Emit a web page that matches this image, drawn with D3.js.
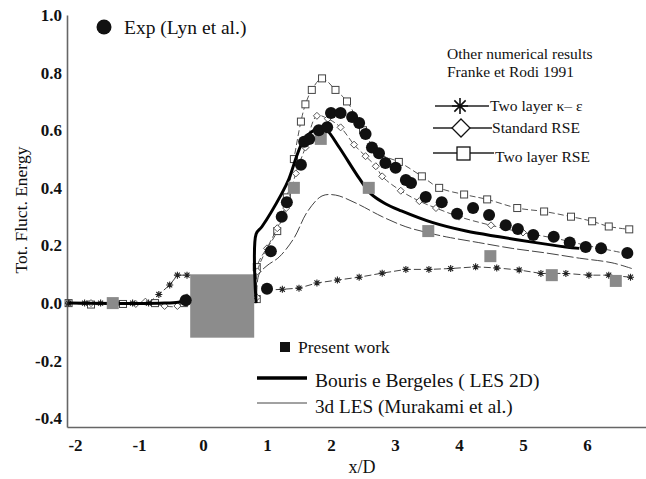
<!DOCTYPE html>
<html>
<head>
<meta charset="utf-8">
<script src="https://cdn.jsdelivr.net/npm/d3@7/dist/d3.min.js"></script>
<style>
  html, body { margin: 0; padding: 0; background: #fff; }
  svg { display: block; }
  svg text { font-family: "Liberation Serif", "Tinos", "Times New Roman", "DejaVu Serif", serif !important; fill: #111; }
</style>
</head>
<body>
<svg id="chart" width="646" height="479"></svg>
<script>
// ---------------- DATA ----------------
const xTicks = [-2, -1, 0, 1, 2, 3, 4, 5, 6, 7];
const yTicks = [-0.4, -0.2, 0.0, 0.2, 0.4, 0.6, 0.8, 1.0];

// obstacle (square cylinder) drawn as grey block
const obstacleX = [-0.2, 0.8];
const obstacleY = [-0.12, 0.1];

// Experiment (Lyn et al.)
const expX = [-0.27, 1.0, 1.06, 1.23, 1.31, 1.53, 1.58, 1.66, 1.81, 1.94, 2.0, 2.15, 2.33, 2.44, 2.54, 2.64, 2.75, 2.85, 3.01, 3.17, 3.25, 3.48, 3.73, 3.97, 4.22, 4.47, 4.73, 4.92, 5.16, 5.48, 5.73, 5.98, 6.22, 6.63];
const expY = [0.01, 0.05, 0.18, 0.30, 0.35, 0.48, 0.56, 0.57, 0.60, 0.61, 0.66, 0.66, 0.646, 0.625, 0.587, 0.54, 0.52, 0.486, 0.47, 0.427, 0.417, 0.368, 0.35, 0.31, 0.33, 0.306, 0.27, 0.257, 0.236, 0.23, 0.21, 0.195, 0.19, 0.174];

// Present work
const presentX = [-1.41, 1.42, 1.84, 2.59, 3.52, 4.49, 5.45, 6.45];
const presentY = [0.0, 0.40, 0.57, 0.40, 0.25, 0.163, 0.097, 0.077];

// Bouris e Bergeles (LES 2D)  (null = break)
const bourisX = [-2.1, -0.6, -0.35, -0.22, null, 0.83, 0.83, 0.92, 1.23, 1.34, 1.48, 1.58, 1.70, 1.86, 1.94, 2.13, 2.45, 2.62, 2.85, 3.1, 3.58, 4.11, 4.63, 5.2, 5.67, 5.88];
const bourisY = [0.0, 0.0, 0.005, 0.025, null, 0.0, 0.24, 0.265, 0.38, 0.43, 0.52, 0.57, 0.595, 0.61, 0.60, 0.54, 0.43, 0.38, 0.345, 0.32, 0.28, 0.25, 0.23, 0.21, 0.195, 0.19];

// 3d LES (Murakami et al.)
const les3dX = [0.84, 0.875, 1.0, 1.19, 1.42, 1.63, 1.86, 2.07, 2.39, 2.8, 3.17, 3.5, 3.8, 4.31, 4.83, 5.36, 5.88, 6.39, 6.7];
const les3dY = [0.02, 0.10, 0.13, 0.16, 0.225, 0.317, 0.372, 0.375, 0.347, 0.30, 0.265, 0.245, 0.23, 0.21, 0.19, 0.174, 0.156, 0.14, 0.12];

// Franke & Rodi 1991 : Two layer k-eps
const keX = [-2.1, -1.85, -1.6, -1.35, -1.1, -0.85, -0.69, -0.52, -0.4, -0.25, null, 0.98, 1.24, 1.5, 1.78, 2.1, 2.44, 2.8, 3.17, 3.53, 3.87, 4.26, 4.59, 4.94, 5.28, 5.67, 6.03, 6.34, 6.68];
const keY = [0.0, 0.0, 0.0, 0.0, 0.0, 0.0, 0.03, 0.063, 0.097, 0.097, null, 0.045, 0.048, 0.052, 0.07, 0.08, 0.09, 0.104, 0.117, 0.117, 0.12, 0.126, 0.122, 0.115, 0.103, 0.103, 0.097, 0.097, 0.09];

// Franke & Rodi 1991 : Standard RSE
const srseX = [-2.1, -1.75, -1.4, -1.05, -0.9, -0.6, -0.4, -0.25, null, 0.84, 0.85, 1.0, 1.16, 1.3, 1.45, 1.6, 1.78, 1.95, 2.15, 2.36, 2.54, 2.7, 2.8, 3.09, 3.38, 3.64, 4.0, 4.5, 5.0, 5.5, 6.0, 6.66];
const srseY = [0.0, 0.0, -0.003, -0.003, 0.005, -0.01, -0.01, 0.02, null, 0.02, 0.11, 0.19, 0.26, 0.33, 0.45, 0.54, 0.65, 0.64, 0.61, 0.55, 0.51, 0.475, 0.44, 0.39, 0.354, 0.33, 0.30, 0.27, 0.245, 0.225, 0.2, 0.17];

// Franke & Rodi 1991 : Two layer RSE
const tlrseX = [-2.1, -1.75, -1.25, -0.75, -0.3, null, 0.84, 0.84, 1.16, 1.31, 1.42, 1.53, 1.6, 1.70, 1.86, 2.07, 2.25, 2.5, 2.75, 3.06, 3.42, 3.69, 4.08, 4.44, 4.91, 5.33, 5.75, 6.08, 6.34, 6.66];
const tlrseY = [0.0, -0.005, -0.003, 0.0, 0.0, null, 0.014, 0.125, 0.25, 0.367, 0.5, 0.63, 0.69, 0.74, 0.78, 0.74, 0.70, 0.60, 0.52, 0.49, 0.44, 0.40, 0.377, 0.36, 0.33, 0.318, 0.30, 0.284, 0.266, 0.256];

// ---------------- CHART ----------------
const FONT = '"Liberation Serif", "Tinos", "Times New Roman", "DejaVu Serif", serif';
const svg = d3.select("#chart");
const x = d3.scaleLinear().domain([-2.125, 7]).range([67, 651]);
const y = d3.scaleLinear().domain([-0.43, 1.0]).range([427, 15]);

const zip = (xs, ys) => xs.map((v, i) => ({ x: v, y: ys[i] }));
const line = d3.line().defined(d => d.x !== null && d.y !== null).x(d => x(d.x)).y(d => y(d.y));
const smooth = d3.line().defined(d => d.x !== null && d.y !== null).x(d => x(d.x)).y(d => y(d.y))
  .curve(d3.curveCatmullRom.alpha(0.5));

const asterisk = (cx, cy, r) => {
  const d = r * 0.707;
  return `M${cx - r},${cy}H${cx + r}M${cx},${cy - r}V${cy + r}` +
         `M${cx - d},${cy - d}L${cx + d},${cy + d}M${cx - d},${cy + d}L${cx + d},${cy - d}`;
};
const diamond = (cx, cy, w, h) => `M${cx},${cy - h}L${cx + w},${cy}L${cx},${cy + h}L${cx - w},${cy}Z`;

// axes
const yAxis = d3.axisLeft(y).tickValues(yTicks).tickSize(0).tickSizeOuter(0).tickPadding(5)
  .tickFormat(d => d.toFixed(1));
const gy = svg.append("g").attr("transform", "translate(67,0)").call(yAxis).attr("font-family", FONT);
gy.select(".domain").attr("stroke", "#666").attr("stroke-width", 1.6);
gy.selectAll("text").attr("font-size", 17).attr("font-weight", "bold").attr("fill", "#222");

const xAxis = d3.axisBottom(x).tickValues(xTicks).tickSize(0).tickSizeOuter(0)
  .tickFormat(d => String(d));
const gx = svg.append("g").attr("transform", "translate(0,427)").call(xAxis).attr("font-family", FONT);
gx.select(".domain").attr("stroke", "#666").attr("stroke-width", 1.6);
gx.selectAll("text").attr("y", 18).attr("dy", "0.35em")
  .attr("font-size", 17).attr("font-weight", "bold").attr("fill", "#222");

// axis titles
svg.append("text").attr("x", 362).attr("y", 467).attr("dy", "0.35em").attr("text-anchor", "middle")
  .attr("font-size", 18).text("x/D");
svg.append("text").attr("transform", "translate(21,210) rotate(-90)").attr("dy", "0.35em")
  .attr("text-anchor", "middle").attr("font-size", 17.5).text("Tot. Fluct. Energy");

const plot = svg.append("g");

// Two layer RSE
plot.append("path").datum(zip(tlrseX, tlrseY)).attr("d", smooth).attr("fill", "none")
  .attr("stroke", "#555").attr("stroke-width", 1).attr("stroke-dasharray", "6,3");
plot.selectAll(".tlrse").data(zip(tlrseX, tlrseY).filter(d => d.x !== null)).join("rect")
  .attr("x", d => x(d.x) - 3.5).attr("y", d => y(d.y) - 3.5).attr("width", 7).attr("height", 7)
  .attr("fill", "#fff").attr("stroke", "#444").attr("stroke-width", 1);

// Standard RSE
plot.append("path").datum(zip(srseX, srseY)).attr("d", smooth).attr("fill", "none")
  .attr("stroke", "#555").attr("stroke-width", 1).attr("stroke-dasharray", "6,3");
plot.selectAll(".srse").data(zip(srseX, srseY).filter(d => d.x !== null)).join("path")
  .attr("d", d => diamond(x(d.x), y(d.y), 3.5, 3.5))
  .attr("fill", "#fff").attr("stroke", "#555").attr("stroke-width", 1);

// Two layer k-eps
plot.append("path").datum(zip(keX, keY)).attr("d", line).attr("fill", "none")
  .attr("stroke", "#444").attr("stroke-width", 1).attr("stroke-dasharray", "7,3");
plot.selectAll(".ke").data(zip(keX, keY).filter(d => d.x !== null)).join("path")
  .attr("d", d => asterisk(x(d.x), y(d.y), 3.5))
  .attr("fill", "none").attr("stroke", "#222").attr("stroke-width", 1.1);

// 3d LES
plot.append("path").datum(zip(les3dX, les3dY)).attr("d", smooth).attr("fill", "none")
  .attr("stroke", "#444").attr("stroke-width", 1).attr("stroke-dasharray", "12,3");

// obstacle
plot.append("rect").attr("x", x(obstacleX[0])).attr("y", y(obstacleY[1]))
  .attr("width", x(obstacleX[1]) - x(obstacleX[0])).attr("height", y(obstacleY[0]) - y(obstacleY[1]))
  .attr("fill", "#8c8c8c");

// Bouris e Bergeles
plot.append("path").datum(zip(bourisX, bourisY)).attr("d", smooth).attr("fill", "none")
  .attr("stroke", "#000").attr("stroke-width", 3).attr("stroke-linejoin", "round");

// Present work
plot.selectAll(".present").data(zip(presentX, presentY)).join("rect")
  .attr("x", d => x(d.x) - 6).attr("y", d => y(d.y) - 6).attr("width", 12).attr("height", 12)
  .attr("fill", "#8a8a8a");

// Experiment
plot.selectAll(".exp").data(zip(expX, expY)).join("circle")
  .attr("cx", d => x(d.x)).attr("cy", d => y(d.y)).attr("r", 6).attr("fill", "#111");

// ---------------- LEGENDS ----------------
const t = (xp, yp, size, str) => svg.append("text").attr("x", xp).attr("y", yp).attr("dy", "0.35em")
  .attr("font-family", FONT).attr("font-size", size).text(str);

svg.append("circle").attr("cx", 104).attr("cy", 27).attr("r", 7.5).attr("fill", "#111");
t(124, 27, 19.5, "Exp (Lyn et al.)");

t(447, 54, 15.5, "Other numerical results");
t(447, 72, 15.5, "Franke et Rodi 1991");

svg.append("line").attr("x1", 435).attr("x2", 489).attr("y1", 106).attr("y2", 106).attr("stroke", "#222").attr("stroke-width", 1.3);
svg.append("path").attr("d", asterisk(460, 106, 8)).attr("stroke", "#111").attr("stroke-width", 1.6).attr("fill", "none");
t(490, 106, 15.6, "Two layer κ– ε");

svg.append("line").attr("x1", 433).attr("x2", 492).attr("y1", 128).attr("y2", 128).attr("stroke", "#222").attr("stroke-width", 1.3);
svg.append("path").attr("d", diamond(461, 128, 9, 9)).attr("stroke", "#111").attr("stroke-width", 1.3).attr("fill", "#fff");
t(492, 128, 15.6, "Standard RSE");

svg.append("line").attr("x1", 433).attr("x2", 494).attr("y1", 153).attr("y2", 153).attr("stroke", "#222").attr("stroke-width", 1.3);
svg.append("rect").attr("x", 457).attr("y", 147).attr("width", 13).attr("height", 13).attr("stroke", "#111").attr("stroke-width", 1.3).attr("fill", "#fff");
t(495, 157, 15.6, "Two layer RSE");

svg.append("rect").attr("x", 280).attr("y", 342).attr("width", 10).attr("height", 10).attr("fill", "#111");
t(298, 347, 17.5, "Present work");

svg.append("line").attr("x1", 257).attr("x2", 307).attr("y1", 378).attr("y2", 378).attr("stroke", "#000").attr("stroke-width", 3.5);
t(315, 380, 19.5, "Bouris e Bergeles ( LES 2D)");

svg.append("line").attr("x1", 257).attr("x2", 307).attr("y1", 403).attr("y2", 403).attr("stroke", "#444").attr("stroke-width", 1);
t(315, 406, 19.2, "3d LES (Murakami et al.)");
</script>
</body>
</html>
